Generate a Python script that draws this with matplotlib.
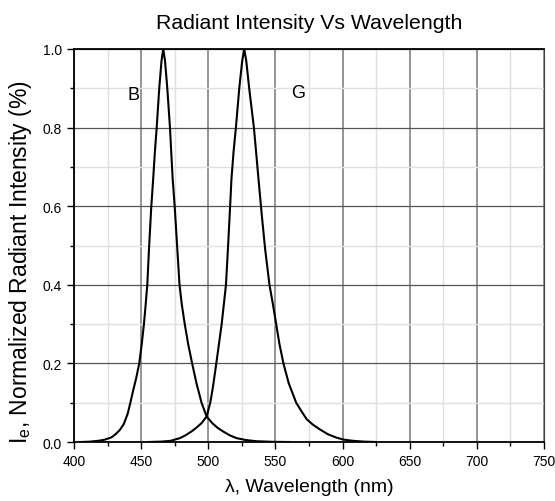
import numpy as np
import matplotlib.pyplot as plt
from matplotlib.ticker import MultipleLocator

plt.rcParams['font.family'] = ['Liberation Sans', 'DejaVu Sans']

# blue LED spectrum
wl_b = [405, 412, 418, 423, 428, 431, 434, 437, 440, 442, 444, 446.5, 448.6, 450.5, 452.1,
        453.4, 454.6, 456, 457.6, 459, 460.3, 461.6, 463.5, 465.2, 466.5,
        467.8, 469.5, 471.5, 472.4, 473.5, 475.0, 476.8, 478.6, 480.3, 482.5, 485.0,
        488.0, 491.2, 495, 498.8, 503, 507, 511, 516, 521, 528, 536, 548, 560]
int_b = [0.0, 0.001, 0.003, 0.006, 0.012, 0.02, 0.03, 0.045, 0.072, 0.1, 0.13, 0.165, 0.2, 0.25, 0.3,
         0.35, 0.4, 0.5, 0.6, 0.67, 0.74, 0.8, 0.9, 0.97, 1.0,
         0.97, 0.9, 0.8, 0.74, 0.67, 0.6, 0.5, 0.4, 0.35, 0.3, 0.25,
         0.2, 0.15, 0.1, 0.065, 0.048, 0.036, 0.027, 0.017, 0.01, 0.005, 0.002, 0.0005, 0.0]

# green LED spectrum
wl_g = [455, 465, 472, 479, 483, 487.6, 491, 495, 498.8, 501.5, 503.5, 506, 508, 510, 511.6,
        513.2, 514.8, 516.3, 517.3, 518.9, 520.6, 523.1, 525.3, 526.8,
        528.3, 530.5, 534, 535.6, 537.4, 539.8, 542.4, 545.6, 548.2, 550.6, 553.0, 556.0,
        559.9, 565.5, 569.5, 573.3, 578, 583.2, 589, 595.6, 601, 608, 616, 625]
int_g = [0.0, 0.001, 0.003, 0.01, 0.017, 0.027, 0.036, 0.048, 0.065, 0.1, 0.14, 0.2, 0.25, 0.3, 0.35,
         0.4, 0.5, 0.6, 0.67, 0.74, 0.8, 0.9, 0.97, 1.0,
         0.97, 0.9, 0.8, 0.74, 0.67, 0.58, 0.49, 0.4, 0.35, 0.3, 0.25, 0.2,
         0.15, 0.1, 0.078, 0.058, 0.044, 0.032, 0.02, 0.011, 0.006, 0.003, 0.001, 0.0]

fig = plt.figure(figsize=(5.55, 5.02), dpi=100)
ax = fig.add_axes([0.1333, 0.1175, 0.8467, 0.7829])

ax.plot(wl_b, int_b, color='black', lw=1.5, solid_joinstyle='round')
ax.plot(wl_g, int_g, color='black', lw=1.5, solid_joinstyle='round')

ax.text(444, 0.885, 'B', fontsize=13, ha='center', va='center')
ax.text(567, 0.89, 'G', fontsize=13, ha='center', va='center')

ax.set_xlim(400, 750)
ax.set_ylim(0, 1.0)
ax.xaxis.set_major_locator(MultipleLocator(50))
ax.xaxis.set_minor_locator(MultipleLocator(25))
ax.yaxis.set_major_locator(MultipleLocator(0.2))
ax.yaxis.set_minor_locator(MultipleLocator(0.1))
ax.yaxis.set_major_formatter(plt.FormatStrFormatter('%.1f'))

# grid: vertical major lines a bit wider than the horizontal ones
ax.grid(which='minor', color='#e0e0e0', lw=1.0)
ax.xaxis.grid(which='major', color='#8c8c8c', lw=1.3)
ax.yaxis.grid(which='major', color='#555555', lw=0.9)
ax.set_axisbelow(True)

ax.tick_params(which='both', direction='out', top=False, right=False, labelsize=10)
ax.tick_params(which='major', length=5, width=1)
ax.tick_params(which='minor', length=3, width=1)
for s in ['left', 'bottom', 'top']:
    ax.spines[s].set_linewidth(1.3)
ax.spines['right'].set_color('#404040')

ax.set_title('Radiant Intensity Vs Wavelength', fontsize=15.3, pad=15)
ax.set_xlabel('λ, Wavelength (nm)', fontsize=14, labelpad=7)
ax.set_ylabel('I$_\\mathregular{e}$, Normalized Radiant Intensity (%)', fontsize=16.5)
ax.yaxis.set_label_coords(-0.085, 0.46)

fig.savefig('out.png', dpi=100)
